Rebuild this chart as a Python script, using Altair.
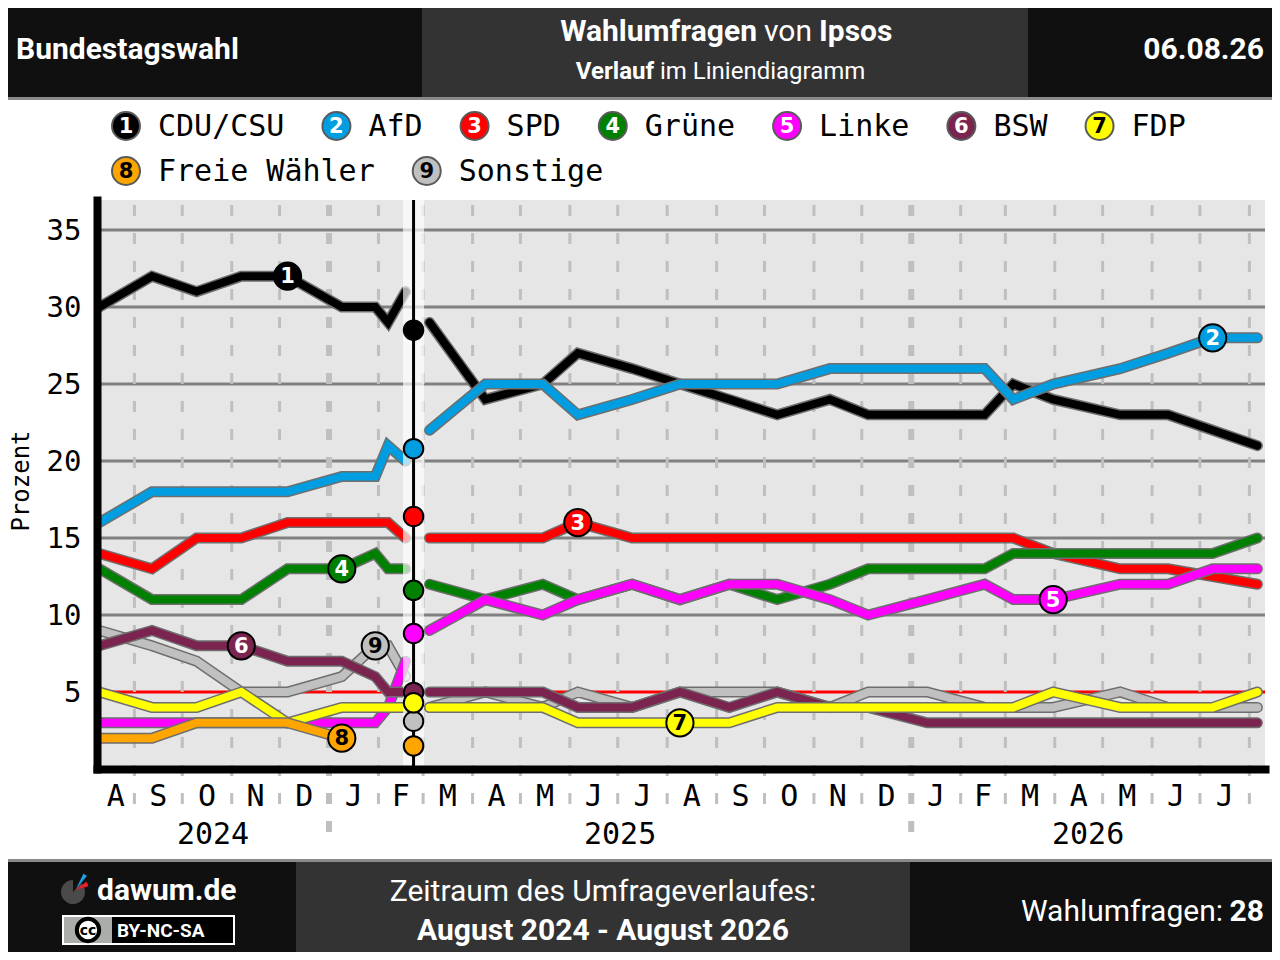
import altair as alt
import pandas as pd

# ---------------- data ----------------
parties = ["CDU/CSU", "AfD", "SPD", "Grüne", "Linke", "BSW", "FDP", "Freie Wähler", "Sonstige"]
party_colors = ["#000000", "#009ee0", "#ff0000", "#008000", "#ff00ff", "#7b2450", "#ffff00", "#ffa500", "#c0c0c0"]
number_colors = ["white", "white", "white", "white", "white", "white", "black", "black", "black"]
draw_order = ["Sonstige", "CDU/CSU", "AfD", "SPD", "Grüne", "Linke", "BSW", "FDP", "Freie Wähler"]

pre_dates = ["2024-08-10", "2024-09-12", "2024-10-10", "2024-11-07", "2024-12-06",
             "2025-01-09", "2025-01-30", "2025-02-07", "2025-02-18"]
post_dates = ["2025-03-05", "2025-04-09", "2025-05-15", "2025-06-06", "2025-07-10", "2025-08-09",
              "2025-09-09", "2025-10-09", "2025-11-11", "2025-12-05", "2026-01-11", "2026-02-16",
              "2026-03-06", "2026-03-31", "2026-05-12", "2026-06-11", "2026-07-09", "2026-08-06"]

cdu_pre = [30, 32, 31, 32, 32, 30, 30, 29, 31]
afd_pre = [16, 18, 18, 18, 18, 19, 19, 21, 20]
spd_pre = [14, 13, 15, 15, 16, 16, 16, 16, 15]
gruene_pre = [13, 11, 11, 11, 13, 13, 14, 13, 13]
linke_pre = [3, 3, 3, 3, 3, 3, 3, 4, 7]
bsw_pre = [8, 9, 8, 8, 7, 7, 6, 5, 5]
fdp_pre = [5, 4, 4, 5, 3, 4, 4, 4, 4]
fw_pre = [2, 2, 3, 3, 3, 2]
sonst_pre = [9, 8, 7, 5, 5, 6, 8, 8, 6]

cdu_post = [29, 24, 25, 27, 26, 25, 24, 23, 24, 23, 23, 23, 25, 24, 23, 23, 22, 21]
afd_post = [22, 25, 25, 23, 24, 25, 25, 25, 26, 26, 26, 26, 24, 25, 26, 27, 28, 28]
spd_post = [15, 15, 15, 16, 15, 15, 15, 15, 15, 15, 15, 15, 15, 14, 13, 13, 12.5, 12]
gruene_post = [12, 11, 12, 11, 12, 11, 12, 11, 12, 13, 13, 13, 14, 14, 14, 14, 14, 15]
linke_post = [9, 11, 10, 11, 12, 11, 12, 12, 11, 10, 11, 12, 11, 11, 12, 12, 13, 13]
bsw_post = [5, 5, 5, 4, 4, 5, 4, 5, 4, 4, 3, 3, 3, 3, 3, 3, 3, 3]
fdp_post = [4, 4, 4, 3, 3, 3, 3, 4, 4, 4, 4, 4, 4, 5, 4, 4, 4, 5]
fw_post = []
sonst_post = [4, 5, 4, 5, 4, 5, 5, 5, 4, 5, 5, 4, 4, 4, 5, 4, 4, 4]

election_date = "2025-02-23"
election_result = [28.5, 20.8, 16.4, 11.6, 8.8, 4.97, 4.3, 1.5, 3.1]

# where the numbered badge sits on each line (segment, poll index)
label_seg = ["pre", "post", "post", "pre", "post", "pre", "post", "pre", "pre"]
label_idx = [4, 16, 3, 5, 13, 3, 5, 5, 6]

y_ticks = [5, 10, 15, 20, 25, 30, 35]
grid_values = [10, 15, 20, 25, 30, 35]
threshold = [5]
month_letters = ["J", "F", "M", "A", "M", "J", "J", "A", "S", "O", "N", "D"]

# ---------------- helpers ----------------
BASE = pd.Timestamp("2025-01-01")


def dnum(s):
    return (pd.Timestamp(s) - BASE).total_seconds() / 86400.0


X0 = dnum("2024-08-08T13:00")
X1 = dnum("2026-08-10T19:00")
W, H = 1168, 569

pre_series = [cdu_pre, afd_pre, spd_pre, gruene_pre, linke_pre, bsw_pre, fdp_pre, fw_pre, sonst_pre]
post_series = [cdu_post, afd_post, spd_post, gruene_post, linke_post, bsw_post, fdp_post, fw_post, sonst_post]

rows = []
for i, p in enumerate(parties):
    for seg, dates, vals in (("pre", pre_dates, pre_series[i]), ("post", post_dates, post_series[i])):
        for d, v in zip(dates, vals):
            rows.append({"party": p, "seg": seg, "day": dnum(d), "value": v})
df_lines = pd.DataFrame(rows)

xscale = alt.Scale(domain=[X0, X1], nice=False, zero=False)
yscale = alt.Scale(domain=[0, 36.95], nice=False, zero=False)
xaxis = alt.Axis(labels=False, ticks=False, title=None, grid=False, domainColor="black",
                 domainWidth=8, domainCap="square", zindex=1)
yaxis = alt.Axis(values=y_ticks, title=None, grid=False, ticks=False, tickSize=0, labelPadding=16,
                 labelFont="DejaVu Sans Mono", labelFontSize=29, labelColor="black",
                 domainColor="black", domainWidth=8, domainCap="square", zindex=1)
X = alt.X("day:Q", scale=xscale, axis=xaxis)
Y = alt.Y("value:Q", scale=yscale, axis=yaxis)


def px(field):
    return alt.X(field + ":Q", scale=None, axis=None)


def py(field):
    return alt.Y(field + ":Q", scale=None, axis=None)


def text_layer(rws, font, weight="normal", align="left", baseline="alphabetic", angle=None):
    d = pd.DataFrame(rws, columns=["x", "y", "t", "c", "s"])
    kw = dict(font=font, fontWeight=weight, align=align, baseline=baseline)
    if angle is not None:
        kw["angle"] = angle
    return alt.Chart(d).mark_text(**kw).encode(
        x=px("x"), y=py("y"), text="t:N",
        color=alt.Color("c:N", scale=None), size=alt.Size("s:Q", scale=None))


def rect_layer(rws, **mk):
    d = pd.DataFrame(rws, columns=["x", "x2", "y", "y2", "c"])
    return alt.Chart(d).mark_rect(**mk).encode(
        x=px("x"), x2="x2:Q", y=py("y"), y2="y2:Q", fill=alt.Fill("c:N", scale=None))


layers = []

# ---------------- header / footer boxes (page coords minus plot origin 97,200) ----------------
layers.append(rect_layer([
    [-97, 325, -200, -103, "#101010"],
    [325, 931, -200, -103, "#333333"],
    [931, 1183, -200, -103, "#101010"],
    [-97, 1183, -103, -100, "#8a8a8a"],
    [-97, 1183, 659, 662, "#8a8a8a"],
    [-97, 199, 662, 760, "#101010"],
    [199, 813, 662, 760, "#333333"],
    [813, 1183, 662, 760, "#101010"],
    [-35, 138, 715, 745, "#ffffff"],
    [-33, 136, 717, 743, "#000000"],
    [-33, 15, 717, 743, "#abadaa"],
]))

# ---------------- grid ----------------
layers.append(alt.Chart(pd.DataFrame({"value": grid_values})).mark_rule(
    color="#808080", strokeWidth=3).encode(y=Y, x=alt.value(0), x2=alt.value(W)))
layers.append(alt.Chart(pd.DataFrame({"value": threshold})).mark_rule(
    color="#ff0000", strokeWidth=3).encode(y=Y, x=alt.value(0), x2=alt.value(W)))

# month boundaries (dashed verticals)
mrows = []
lrows = []
for yr in (2024, 2025, 2026):
    for m in range(1, 13):
        start = pd.Timestamp(year=yr, month=m, day=1)
        nxt = start + pd.offsets.MonthBegin(1)
        s, e = dnum(start), dnum(nxt)
        if X0 < s < X1:
            mrows.append({"day": s, "year": 1 if m == 1 else 0})
        vs, ve = max(s, X0), min(e, X1)
        if ve - vs >= 15:
            lrows.append({"day": (vs + ve) / 2, "t": month_letters[m - 1]})
df_months = pd.DataFrame(mrows)
df_mlabels = pd.DataFrame(lrows)
layers.append(alt.Chart(df_months[df_months.year == 0]).mark_rule(
    color="#bfbfbf", strokeWidth=3, strokeDash=[11, 17], strokeDashOffset=23).encode(
    x=X, y=alt.value(0), y2=alt.value(610)))
layers.append(alt.Chart(df_months[df_months.year == 1]).mark_rule(
    color="#bfbfbf", strokeWidth=6, strokeDash=[11, 17], strokeDashOffset=23).encode(
    x=X, y=alt.value(0), y2=alt.value(647)))

# ---------------- party lines ----------------
for p in draw_order:
    col = party_colors[parties.index(p)]
    base = alt.Chart(df_lines).transform_filter(alt.datum.party == p)
    layers.append(base.mark_line(strokeWidth=11, color="#6e6e6e", strokeCap="round",
                                 strokeJoin="miter").encode(x=X, y=Y, detail="seg:N"))
    layers.append(base.mark_line(strokeWidth=8, color=col, strokeCap="round",
                                 strokeJoin="miter").encode(x=X, y=Y, detail="seg:N"))

# ---------------- election band, line, results ----------------
ed = dnum(election_date)
layers.append(alt.Chart(pd.DataFrame({"day": [ed - 6.6], "day2": [ed + 6.6]})).mark_rect(
    color="white", opacity=0.68).encode(x=X, x2="day2:Q", y=alt.value(0), y2=alt.value(H)))
layers.append(alt.Chart(pd.DataFrame({"day": [ed]})).mark_rule(
    color="black", strokeWidth=3).encode(x=X, y=alt.value(0), y2=alt.value(H)))
el_rows = []
for p in draw_order:
    i = parties.index(p)
    el_rows.append({"day": ed, "value": election_result[i], "c": party_colors[i]})
layers.append(alt.Chart(pd.DataFrame(el_rows)).mark_circle(
    size=380, stroke="black", strokeWidth=2, opacity=1).encode(
    x=X, y=Y, fill=alt.Fill("c:N", scale=None)))

# ---------------- numbered badges on the lines ----------------
lab_rows = []
for i, p in enumerate(parties):
    dates = pre_dates if label_seg[i] == "pre" else post_dates
    vals = pre_series[i] if label_seg[i] == "pre" else post_series[i]
    j = label_idx[i]
    lab_rows.append({"day": dnum(dates[j]), "value": vals[j], "c": party_colors[i],
                     "tc": number_colors[i], "n": str(i + 1)})
df_lab = pd.DataFrame(lab_rows)
layers.append(alt.Chart(df_lab).mark_circle(size=740, stroke="black", strokeWidth=2, opacity=1).encode(
    x=X, y=Y, fill=alt.Fill("c:N", scale=None)))
layers.append(alt.Chart(df_lab).mark_text(font="DejaVu Sans", fontWeight="bold", fontSize=21,
                                          baseline="middle", dy=1).encode(
    x=X, y=Y, text="n:N", color=alt.Color("tc:N", scale=None)))

# ---------------- legend ----------------
leg_c, leg_t = [], []
for r, idxs in enumerate([[0, 1, 2, 3, 4, 5, 6], [7, 8]]):
    yy = -74 + r * 45
    cx = 29
    for i in idxs:
        leg_c.append({"x": cx, "y": yy, "c": party_colors[i], "tc": number_colors[i], "n": str(i + 1)})
        leg_t.append([cx + 32, yy + 1, parties[i], "black", 30])
        cx = cx + 32 + len(parties[i]) * 18.06 + 52
df_leg = pd.DataFrame(leg_c)
layers.append(alt.Chart(df_leg).mark_circle(size=784, stroke="#5a5a5a", strokeWidth=2, opacity=1).encode(
    x=px("x"), y=py("y"), fill=alt.Fill("c:N", scale=None)))
layers.append(alt.Chart(df_leg).mark_text(font="DejaVu Sans", fontWeight="bold", fontSize=21,
                                          baseline="middle", dy=1).encode(
    x=px("x"), y=py("y"), text="n:N", color=alt.Color("tc:N", scale=None)))
layers.append(text_layer(leg_t, "DejaVu Sans Mono", baseline="middle"))

# ---------------- x labels ----------------
layers.append(alt.Chart(df_mlabels).mark_text(font="DejaVu Sans Mono", fontSize=30, baseline="middle",
                                              color="black").encode(x=X, y=alt.value(597), text="t:N"))
yrows = []
for yr in (2024, 2025, 2026):
    s = max(dnum(f"{yr}-01-01"), X0)
    e = min(dnum(f"{yr + 1}-01-01"), X1)
    yrows.append({"day": (s + e) / 2, "t": str(yr)})
layers.append(alt.Chart(pd.DataFrame(yrows)).mark_text(font="DejaVu Sans Mono", fontSize=30,
                                                       baseline="middle", color="black").encode(
    x=X, y=alt.value(635), text="t:N"))
layers.append(text_layer([[-75, 281, "Prozent", "black", 24]], "DejaVu Sans Mono",
                         align="center", baseline="middle", angle=270))

# ---------------- header / footer text ----------------
layers.append(text_layer([
    [-81, -141, "Bundestagswahl", "white", 30],
    [0, 700, "dawum.de", "white", 30],
], "Roboto", weight="bold", align="left"))
layers.append(text_layer([
    [660, -159, "Wahlumfragen", "white", 30],
    [557, -121, "Verlauf", "white", 24],
    [1167, -141, "06.08.26", "white", 30],
    [1167, 721, "28", "white", 30],
], "Roboto", weight="bold", align="right"))
layers.append(text_layer([
    [722, -159, "Ipsos", "white", 30],
], "Roboto", weight="bold", align="left"))
layers.append(text_layer([
    [506, 740, "August 2024 - August 2026", "white", 30],
], "Roboto", weight="bold", align="center"))
layers.append(text_layer([
    [691, -159, "von", "white", 30],
    [506, 701, "Zeitraum des Umfrageverlaufes:", "white", 30],
], "Roboto", weight="normal", align="center"))
layers.append(text_layer([
    [563, -121, "im Liniendiagramm", "white", 24],
], "Roboto", weight="normal", align="left"))
layers.append(text_layer([
    [1126, 721, "Wahlumfragen:", "white", 30],
], "Roboto", weight="normal", align="right"))
layers.append(text_layer([
    [20, 731, "BY-NC-SA", "white", 19],
], "Roboto", weight="bold", align="left", baseline="middle"))

# cc mark
layers.append(alt.Chart(pd.DataFrame({"x": [-9], "y": [730]})).mark_circle(
    size=500, fill="white", stroke="black", strokeWidth=4, opacity=1).encode(x=px("x"), y=py("y")))
layers.append(text_layer([[-9, 731, "cc", "black", 14]], "DejaVu Sans", weight="bold",
                         align="center", baseline="middle"))

# dawum logo
layers.append(alt.Chart(pd.DataFrame({"x": [-24], "y": [692]})).mark_arc(
    radius=12, theta=0.75, theta2=6.283, color="#4a4a4a").encode(x=px("x"), y=py("y")))
layers.append(alt.Chart(pd.DataFrame({"x": [-22], "y": [690]})).mark_arc(
    radius=14, theta=0.95, theta2=1.3, color="#e8202a").encode(x=px("x"), y=py("y")))
layers.append(alt.Chart(pd.DataFrame({"x": [-21], "y": [689]})).mark_arc(
    radius=17, theta=0.45, theta2=0.7, color="#1ea0e6").encode(x=px("x"), y=py("y")))

chart = alt.layer(*layers).properties(
    width=W, height=H,
    padding={"left": 89, "top": 192, "right": 7, "bottom": 183},
    autosize=alt.AutoSizeParams(type="none"),
    background="white",
).configure_view(stroke=None, fill="#e6e6e6")

chart.save("out.html", embed_options={"renderer": "svg", "actions": False})
